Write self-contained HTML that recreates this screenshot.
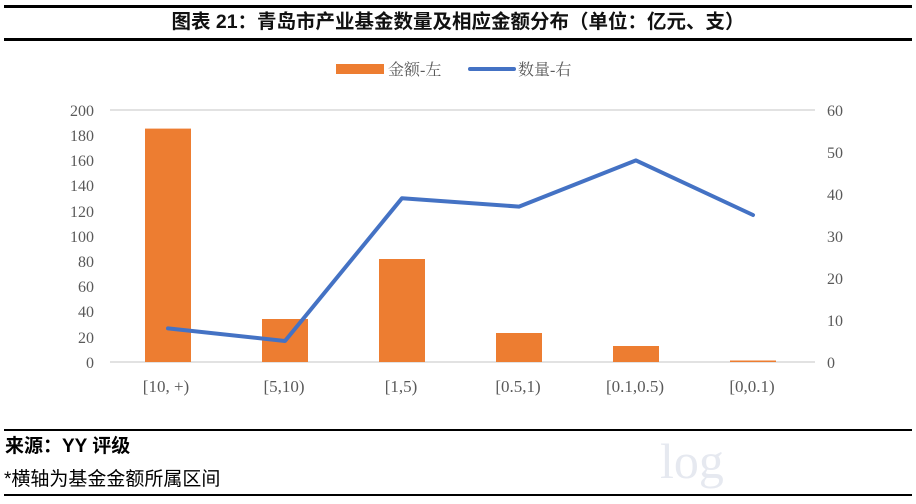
<!DOCTYPE html>
<html><head><meta charset="utf-8"><style>
html,body{margin:0;width:916px;height:504px;overflow:hidden}
body{background:#fff;position:relative;font-family:"Liberation Sans","Noto Sans CJK SC",sans-serif}
.rule{position:absolute;left:4px;right:4px;background:#000}
</style></head><body>
<div class="rule" style="top:5px;height:3px"></div>
<div style="position:absolute;top:9px;left:0;width:916px;text-align:center;font-weight:bold;font-size:19.5px;line-height:26px;color:#111">图表 21：青岛市产业基金数量及相应金额分布（单位：亿元、支）</div>
<div class="rule" style="top:38px;height:3px"></div>
<svg width="916" height="504" style="position:absolute;left:0;top:0;overflow:hidden" font-family="'Liberation Serif','Noto Serif CJK SC',serif">
<text x="660" y="478" font-size="50" fill="#e6e9f0" font-family="Liberation Serif">log</text>
<rect x="336" y="64" width="48" height="10" fill="#ed7d31"/>
<text x="388" y="75" font-size="16" fill="#595959">金额-左</text>
<line x1="470" y1="69" x2="514" y2="69" stroke="#4472c4" stroke-width="4" stroke-linecap="round"/>
<text x="518" y="75" font-size="16" fill="#595959">数量-右</text>
<line x1="110" y1="110" x2="815" y2="110" stroke="#d9d9d9" stroke-width="1.5"/>
<line x1="110" y1="362" x2="815" y2="362" stroke="#d9d9d9" stroke-width="1.5"/>
<g font-size="16" fill="#595959" text-anchor="end">
<text x="94" y="116">200</text><text x="94" y="141">180</text><text x="94" y="166">160</text><text x="94" y="191">140</text><text x="94" y="217">120</text><text x="94" y="242">100</text><text x="94" y="267">80</text><text x="94" y="292">60</text><text x="94" y="317">40</text><text x="94" y="343">20</text><text x="94" y="368">0</text>
</g>
<g font-size="16" fill="#595959">
<text x="827" y="116">60</text><text x="827" y="158">50</text><text x="827" y="200">40</text><text x="827" y="242">30</text><text x="827" y="284">20</text><text x="827" y="326">10</text><text x="827" y="368">0</text>
</g>
<g fill="#ed7d31">
<rect x="145" y="128.6" width="46" height="233.4"/>
<rect x="262" y="319" width="46" height="43"/>
<rect x="379" y="259" width="46" height="103"/>
<rect x="496" y="333" width="46" height="29"/>
<rect x="613" y="346" width="46" height="16"/>
<rect x="730" y="360.5" width="46" height="1.5"/>
</g>
<polyline points="168,328.4 285,341 402,198.2 519,206.6 636,160.4 753,215" fill="none" stroke="#4472c4" stroke-width="4" stroke-linejoin="round" stroke-linecap="round"/>
<g font-size="17" fill="#595959" text-anchor="middle">
<text x="166" y="392">[10, +)</text><text x="284" y="392">[5,10)</text><text x="401" y="392">[1,5)</text><text x="518" y="392">[0.5,1)</text><text x="635" y="392">[0.1,0.5)</text><text x="752" y="392">[0,0.1)</text>
</g>
</svg>
<div class="rule" style="top:429px;height:2px"></div>
<div style="position:absolute;top:436px;left:5px;font-weight:bold;font-size:19px;line-height:22px;color:#000">来源：YY 评级</div>
<div style="position:absolute;top:469px;left:4px;font-size:19px;line-height:22px;color:#000">*横轴为基金金额所属区间</div>
<div class="rule" style="top:494px;height:2px"></div>
</body></html>
